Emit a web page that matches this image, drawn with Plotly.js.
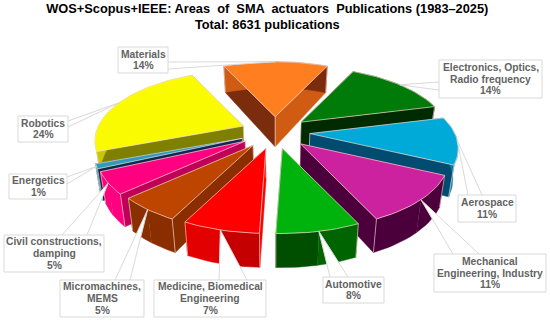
<!DOCTYPE html>
<html><head><meta charset="utf-8">
<script src="https://cdn.plot.ly/plotly-3.0.1.min.js"></script>
<style>html,body{margin:0;padding:0;background:#fff}#c{width:550px;height:321px}</style>
</head><body><div id="c"></div>
<script>
// Data, clockwise from the top of the pie
var categories = ["Materials","Electronics, Optics,<br>Radio frequency","Aerospace","Mechanical<br>Engineering, Industry","Automotive","Medicine, Biomedical<br>Engineering","Micromachines,<br>MEMS","Civil constructions,<br>damping","Energetics","Robotics"];
var shownPercent = [14,14,11,11,8,7,5,5,1,24];
var sliceShare   = [14,14,11,11,7.5,6.9,5.7,5,1.1,23.8];
var topColors  = ["#FF7F20","#007A08","#00AAD8","#CC22A0","#00B30C","#FF0000","#BD4500","#FF0080","#2E9DB5","#FAFA00"];
var startSide  = ["#7A2C0C","#002B00","#004C70","#4B003C","#005A00","#F00808","#8A2E00","#C00058","#0A2A55","#808000"];
var endSide    = ["#D05C14","#002B00","#004C70","#4B003C","#005A00","#F00808","#8A2E00","#C00058","#0A2A55","#808000"];
var arcFirst   = ["#D05C14","#002B00","#007FA8","#4B003C","#006400","#C40000","#8A2E00","#FF0080","#1F7F9A","#C8C800"];
var arcSecond  = ["#7A2C0C","#002B00","#007FA8","#4B003C","#004E00","#E20000","#8A3000","#FF0080","#1F7F9A","#C8C800"];
var paintOrder = [0,1,9,2,8,3,7,6,5,4];
// label boxes: left, top, right, bottom; leader bases: [x,y],[x,y]
var boxes = [[118,47,168,73],[439,60,542,98],[458,195,516,222],[434,254,546,292],[323,277,384,303],[154,280,266,317],[60,280,144,317],[4,235,104,272],[9,174,67,199],[18,116,68,142]];
var leaderBases = [[[168,62],[168,69]],[[439,82],[439,90]],[[468,195],[482,195]],[[453,254],[479,254]],[[330,277],[348,277]],[[219,280],[247,280]],[[115,280],[130,280]],[[62,235],[87,235]],[[67,177],[67,184]],[[68,121],[68,127]]];

// Projection of the tilted disc
var cx=275, cy=132, rx=145, ry=66.8, persp=0.214, pull=0.24, lineStep=11.7;
function proj(deg,r){var t=deg*Math.PI/180,u=r*Math.sin(t),v=-r*Math.cos(t),d=1-persp*v;return [rx*u/d, ry*v/d, v];}
function depth(v){return 30+4*v;}
function lower(p,v){return [p[0]-0.03*(p[0]-cx), p[1]+depth(v)];}
function poly(pts,fill,line,lw){
  var xs=pts.map(function(p){return p[0]}),ys=pts.map(function(p){return p[1]});
  return {type:'scatter',mode:'lines',x:xs,y:ys,fill:'toself',fillcolor:fill,line:{color:line||fill,width:lw===undefined?0.5:lw},hoverinfo:'skip',showlegend:false};
}
var total=sliceShare.reduce(function(a,b){return a+b},0);
var start=-25, geo=[];
sliceShare.forEach(function(s){var a=start,b=start+s/total*360;start=b;geo.push([a,b]);});
var edge='rgba(255,225,215,0.75)';
var traces=[], annotations=[], shapes=[], tips=[];
geo.forEach(function(g,i){
  var mid=(g[0]+g[1])/2,e=proj(mid,pull);
  var p=proj(mid,1);tips[i]=[cx+e[0]+p[0],cy+e[1]+p[1]];
});
paintOrder.forEach(function(i){
  var g=geo[i],mid=(g[0]+g[1])/2,e=proj(mid,pull),ax=cx+e[0],ay=cy+e[1];
  function pt(d){var p=proj(d,1);return [ax+p[0],ay+p[1],p[2]];}
  function arc(a,b){var o=[],n=Math.max(3,Math.ceil(Math.abs(b-a)/2));for(var j=0;j<=n;j++)o.push(pt(a+(b-a)*j/n));return o;}
  var apex=[ax,ay],apexB=lower(apex,0),A=pt(g[0]),B=pt(g[1]);
  var Ab=lower(A,A[2]),Bb=lower(B,B[2]);
  traces.push(poly([apex,A,Ab,apexB],startSide[i]));
  traces.push(poly([apex,B,Bb,apexB],endSide[i]));
  function side(a,b,c){var t=arc(a,b);var bot=t.map(function(p){return lower(p,p[2])}).reverse();traces.push(poly(t.concat(bot),c));}
  side(g[0],mid,arcFirst[i]);
  side(mid,g[1],arcSecond[i]);
  var vx=[apex[0],apexB[0],null,A[0],Ab[0],null,B[0],Bb[0]],vy=[apex[1],apexB[1],null,A[1],Ab[1],null,B[1],Bb[1]];
  traces.push({type:'scatter',mode:'lines',x:vx,y:vy,line:{color:edge,width:0.8},hoverinfo:'skip',showlegend:false});
  traces.push(poly([apex].concat(arc(g[0],g[1])).concat([apex]),topColors[i],edge,0.9));
});
categories.forEach(function(c,i){
  var b=leaderBases[i],t=tips[i],bx=boxes[i];
  traces.push(poly([b[0],t,b[1]],'#ffffff','#d9d9d9',1));
  shapes.push({type:'rect',xref:'x',yref:'y',x0:bx[0],y0:bx[1],x1:bx[2],y1:bx[3],layer:'above',fillcolor:'#ffffff',line:{color:'#d9d9d9',width:1}});
  var lines=c.split('<br>').concat([shownPercent[i]+'%']);
  lines.forEach(function(s,k){
    annotations.push({xref:'x',yref:'y',x:(bx[0]+bx[2])/2,y:(bx[1]+bx[3])/2+(k-(lines.length-1)/2)*lineStep,xanchor:'center',yanchor:'middle',
      text:s,showarrow:false,borderpad:0,
      font:{family:'"Liberation Sans",Arial,sans-serif',size:10.3,color:'#636363',weight:700}});
  });
});
var layout={width:550,height:321,margin:{l:0,r:0,t:0,b:0},paper_bgcolor:'#fff',plot_bgcolor:'#fff',showlegend:false,
  xaxis:{range:[0,550],visible:false,fixedrange:true},
  yaxis:{range:[321,0],visible:false,fixedrange:true},
  title:{text:'<b>WOS+Scopus+IEEE: Areas  of  SMA  actuators  Publications (1983–2025)<br>Total: 8631 publications</b>',
    x:0.486,xanchor:'center',y:0.96,yanchor:'middle',yref:'container',font:{family:'"Liberation Sans",Arial,sans-serif',size:12.8,color:'#000'}},
  shapes:shapes,annotations:annotations};
Plotly.newPlot('c',traces,layout,{displayModeBar:false,staticPlot:true});
</script></body></html>
